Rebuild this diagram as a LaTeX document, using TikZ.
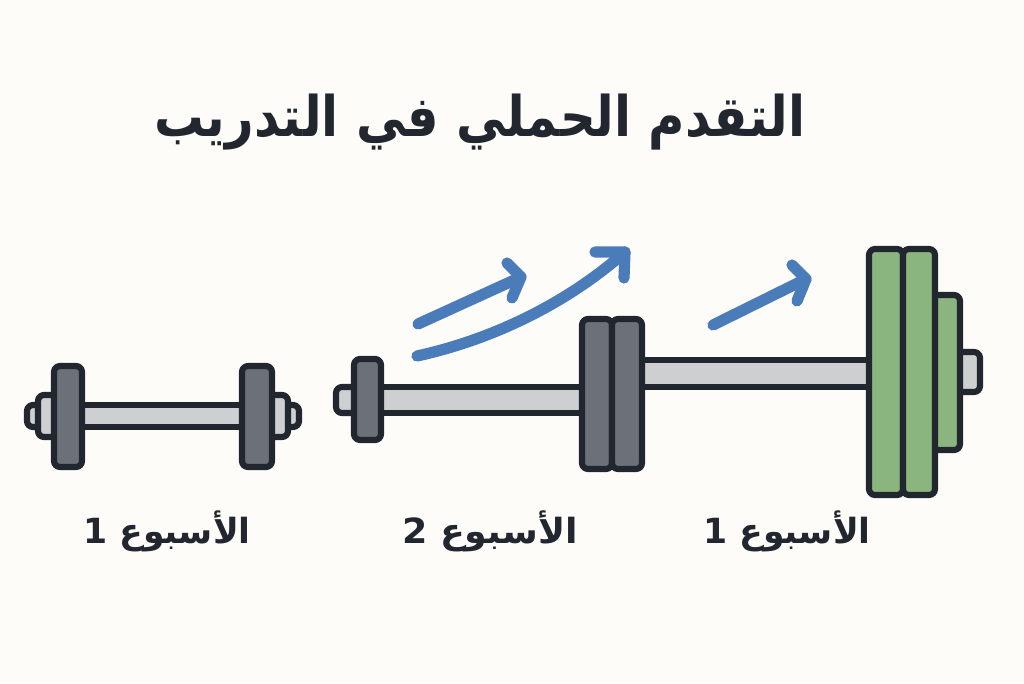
\documentclass[tikz,border=0pt]{standalone}
\usepackage{fontspec}
\TeXXeTstate=1
\newfontfamily\arabicfont[Script=Arabic]{DejaVu Sans}
\definecolor{paper}{HTML}{FDFCF9}
\definecolor{ink}{HTML}{22262E}
\definecolor{iron}{HTML}{6B7079}
\definecolor{steel}{HTML}{CDCFD0}
\definecolor{bumper}{HTML}{8BB57F}
\definecolor{trend}{HTML}{4A7CBA}
\tikzset{
  part/.style={draw=ink,line width=4.6pt,line join=round,rounded corners=4.5pt},
  barpart/.style={part,fill=steel},
  shaft/.style={barpart,rounded corners=0pt},
  ironplate/.style={part,fill=iron},
  greenplate/.style={part,fill=bumper},
  rise/.style={draw=trend,line width=8.4pt,line cap=round,line join=round},
  caption/.style={text=ink,font=\arabicfont\bfseries\fontsize{26}{30}\selectfont,anchor=base,inner sep=0pt},
  headline/.style={text=ink,font=\arabicfont\bfseries\fontsize{42}{50}\selectfont,anchor=base,inner sep=0pt}
}
\begin{document}
\begin{tikzpicture}[x=0.75pt,y=-0.75pt]
\useasboundingbox (0,0) rectangle (1024,683);
\fill[paper] (0,0) rectangle (1024,683);

% Title
\node[headline] (title) at (480,136) {\scalebox{.887}[1]{\beginR التقدم الحملي في التدريب\endR}};

% First barbell
\draw[barpart] (27,405) rectangle (50,427);
\draw[barpart] (38,395) rectangle (60,437);
\draw[barpart] (260,405) rectangle (299,427);
\draw[barpart] (260,395) rectangle (288,437);
\draw[shaft] (75,405) rectangle (250,427);
\draw[ironplate] (54,366) rectangle (82,467);
\draw[ironplate] (242,366) rectangle (272,467);

% Third barbell, shaft and end pieces (its inner end runs behind the second barbell's plates)
\draw[shaft] (630,360) rectangle (880,387);
\draw[barpart] (940,352) rectangle (980,392);

% Second barbell
\draw[barpart] (336,387) rectangle (365,413);
\draw[shaft] (370,387) rectangle (590,413);
\draw[ironplate] (354,359) rectangle (381,440);
\draw[ironplate] (582,319) rectangle (612,469);
\draw[ironplate] (612,319) rectangle (642,469);

% Third barbell, plates
\draw[greenplate] (920,295) rectangle (960,450);
\draw[greenplate] (869,249) rectangle (903,495);
\draw[greenplate] (903,249) rectangle (935,495);

% Progress arrows
\coordinate (a1s) at (418,324);
\coordinate (a1t) at (521,277);
\draw[rise] (a1s) -- (a1t);
\draw[rise] (507,263) -- (a1t) -- (512,298);
\coordinate (a2s) at (417,356);
\coordinate (a2t) at (625,252);
\draw[rise] (a2s) .. controls (490,340) and (565,305) .. (a2t);
\draw[rise] (595,252) -- (a2t) -- (624,278);
\coordinate (a3s) at (713,325);
\coordinate (a3t) at (806,279);
\draw[rise] (a3s) -- (a3t);
\draw[rise] (792,265) -- (a3t) -- (797,301);

% Week captions
\node[caption] (w1) at (167,543) {\beginR الأسبوع \beginL 1\endL\endR};
\node[caption] (w2) at (490,543) {\scalebox{1.05}[1]{\beginR الأسبوع \beginL 2\endL\endR}};
\node[caption] (w3) at (787,543) {\beginR الأسبوع \beginL 1\endL\endR};
\end{tikzpicture}
\end{document}
